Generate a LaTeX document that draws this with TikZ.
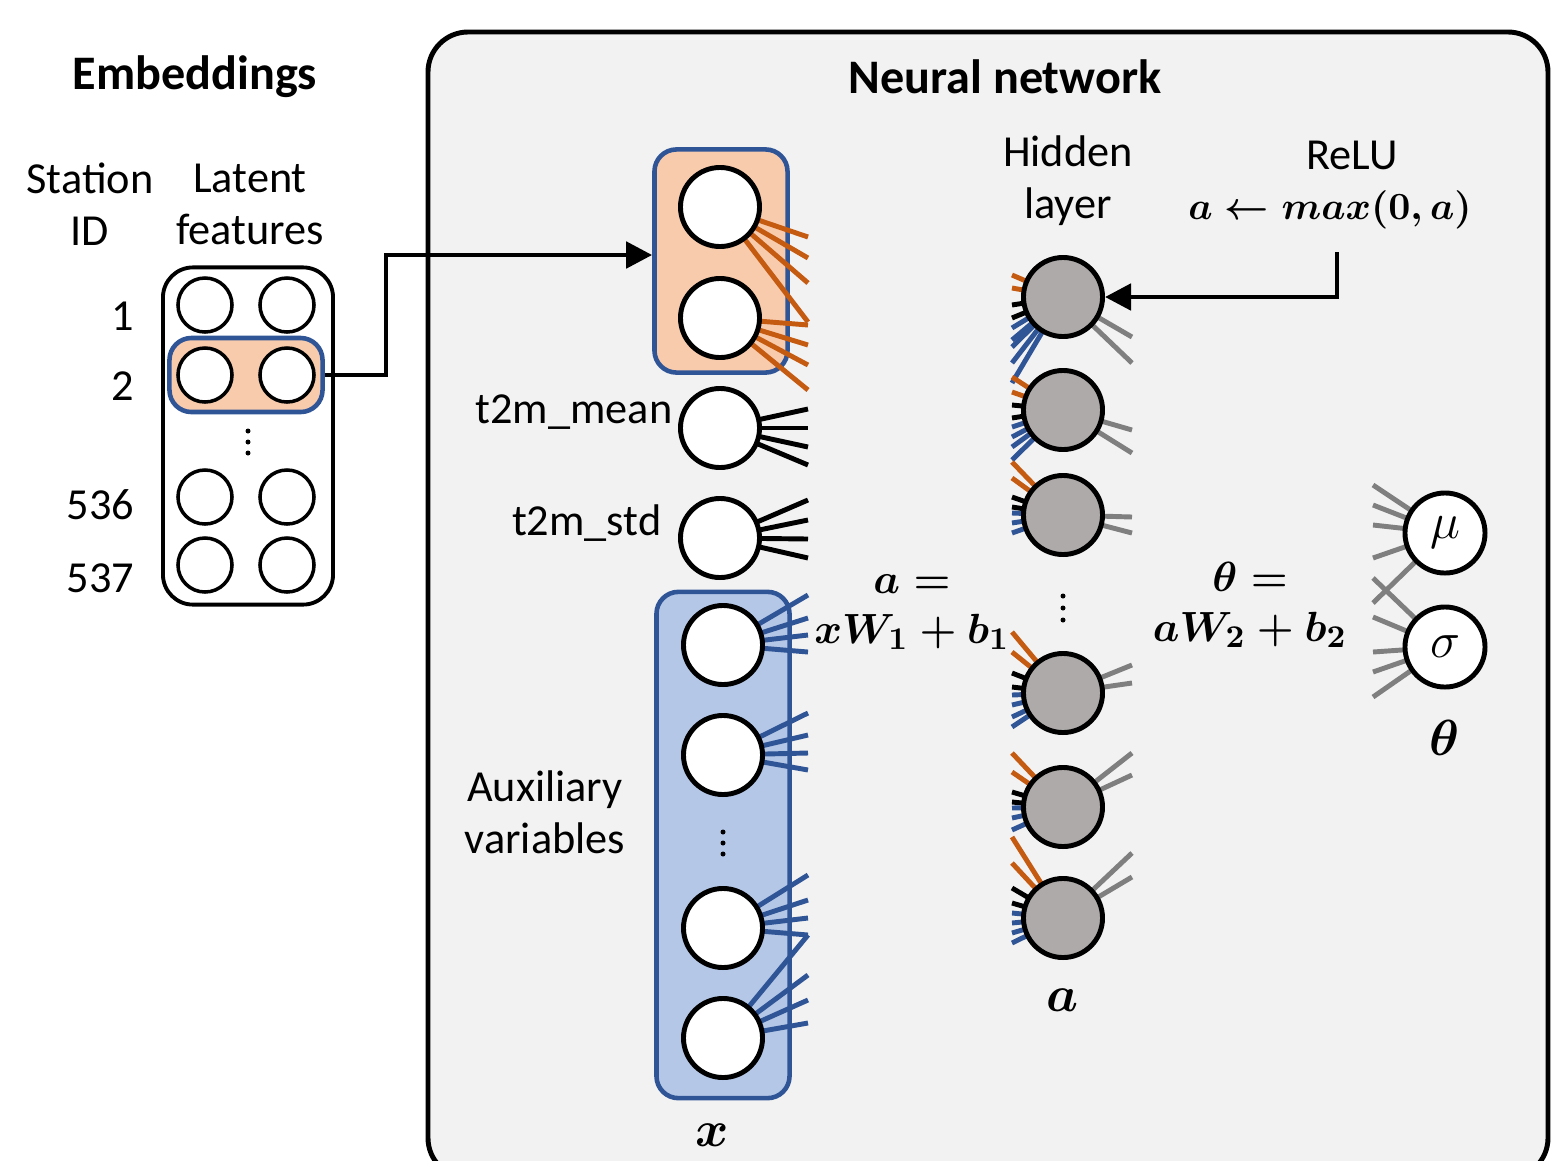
\documentclass[tikz,border=0pt]{standalone}
\usepackage{amsmath}
\usepackage{fontspec}
\setmainfont{Carlito}
\usetikzlibrary{arrows.meta}

\definecolor{panelgray}{HTML}{F2F2F2}
\definecolor{orfill}{HTML}{F8CBAD}
\definecolor{orline}{HTML}{C55A11}
\definecolor{bluline}{HTML}{2F5597}
\definecolor{blufill}{HTML}{B4C7E7}
\definecolor{hidgray}{HTML}{AEAAAA}
\definecolor{stubgray}{HTML}{7F7F7F}

\pgfdeclarelayer{bg}
\pgfdeclarelayer{stubs}
\pgfsetlayers{bg,stubs,main}

\begin{document}
\begin{tikzpicture}[x=0.01cm, y=-0.01cm,
    emb/.style={circle, draw, line width=1pt, fill=white, minimum size=0.54cm, inner sep=0pt},
    inp/.style={circle, draw, line width=1.4pt, fill=white, minimum size=0.79cm, inner sep=0pt},
    hid/.style={circle, draw, line width=1.4pt, fill=hidgray, minimum size=0.79cm, inner sep=0pt},
    outp/.style={circle, draw, line width=1.4pt, fill=white, minimum size=0.8cm, inner sep=0pt, font=\fontsize{15}{18}\selectfont},
    frame/.style={draw, line width=1.1pt, fill=white, rounded corners=0.3cm},
    obox/.style={draw=bluline, line width=1.3pt, fill=orfill, rounded corners=0.22cm},
    bbox/.style={draw=bluline, line width=1.3pt, fill=blufill, rounded corners=0.22cm},
    lbl/.style={font=\fontsize{12.6}{14.8}\selectfont, inner sep=0pt},
    head/.style={font=\fontsize{13.7}{17}\selectfont\bfseries, inner sep=0pt},
    eq/.style={font=\fontsize{12.5}{14.2}\selectfont\boldmath, inner sep=0pt},
    sym/.style={font=\fontsize{14.5}{17}\selectfont\boldmath, inner sep=0pt},
    arr/.style={line width=1.4pt, -{Triangle[length=0.26cm, width=0.26cm]}},
    orstub/.style={orline, line width=1.4pt},
    bkstub/.style={black, line width=1.4pt},
    blstub/.style={bluline, line width=1.4pt},
    grstub/.style={stubgray, line width=1.4pt}]
    \useasboundingbox (0,0) rectangle (1551,1160);

    % panel and boxes
    \begin{pgfonlayer}{bg}
    \draw[fill=panelgray, line width=1.4pt, rounded corners=0.4cm] (428,32) rectangle (1548,1178);
    \node[frame, minimum width=1.70cm, minimum height=3.37cm] (embbox) at (248,436) {};
    \node[obox, minimum width=1.53cm, minimum height=0.74cm] (hl) at (246,375) {};
    \node[obox, minimum width=1.33cm, minimum height=2.23cm] (ob) at (721,261) {};
    \node[bbox, minimum width=1.33cm, minimum height=5.06cm] (aux) at (723,845) {};
    \node[lbl, anchor=east] (meanlbl) at (673,412) {t2m\_mean};
    \end{pgfonlayer}

    % titles and labels
    \node[head] (embt) at (195,77) {Embeddings};
    \node[head] (nnt) at (1005,77) {Neural network};
    \node[lbl, align=center] (sid) at (90,204) {Station\\ID};
    \node[lbl, align=center] (lat) at (250,204) {Latent\\features};
    \node[lbl, anchor=east] (r1) at (135,316) {1};
    \node[lbl, anchor=east] (r2) at (135,386) {2};
    \node[lbl, anchor=east] (r536) at (135,505) {536};
    \node[lbl, anchor=east] (r537) at (135,578) {537};
    \node[lbl, anchor=east] (stdlbl) at (662,523) {t2m\_std};
    \node[lbl, align=center] (auxlbl) at (545,812) {Auxiliary\\variables};
    \node[lbl, align=center] (hidlbl) at (1068,181) {Hidden\\layer};
    \node[lbl] (relu) at (1352,155) {ReLU};
    \node[eq, font=\fontsize{11.2}{14}\selectfont\boldmath] (relueq) at (1330,210) {$a \leftarrow max(0,a)$};
    \node[eq, align=center] (eq1) at (912,612) {$a =$\\$xW_1 + b_1$};
    \node[eq, align=center] (eq2) at (1250,605) {$\theta =$\\$aW_2 + b_2$};
    \node[sym] (xlbl) at (712,1135) {$x$};
    \node[sym] (albl) at (1063,1000) {$a$};
    \node[sym] (thlbl) at (1445,738) {$\theta$};

    % embedding table
    \foreach \n/\y in {1/305, 2/375, 3/497, 4/565} {
        \node[emb] (e\n a) at (205,\y) {};
        \node[emb] (e\n b) at (287,\y) {};
    }
    \foreach \d in {-11,0,11} \fill (248,442+\d) circle (0.025cm);

    % inputs
    \node[inp] (i1) at (720,207) {};
    \node[inp] (i2) at (720,318) {};
    \node[inp] (i3) at (720,428) {};
    \node[inp] (i4) at (720,538) {};
    \node[inp] (a1) at (723,645) {};
    \node[inp] (a2) at (723,755) {};
    \node[inp] (a3) at (723,928) {};
    \node[inp] (a4) at (723,1038) {};
    \foreach \d in {-11,0,11} \fill (723,843+\d) circle (0.025cm);

    % hidden layer
    \foreach \n/\y in {h1/297, h2/410, h3/515, h4/693, h5/807, h6/918}
        \node[hid] (\n) at (1063,\y) {};
    \foreach \d in {-12,0,12} \fill (1063,608+\d) circle (0.025cm);

    % outputs
    \node[outp] (mu) at (1445,533) {$\mu$};
    \node[outp] (sig) at (1445,647) {$\sigma$};

    % stubs
    \begin{pgfonlayer}{stubs}
    \foreach \n/\col/\ys in {i1/orstub/{237,258,283,322}, i2/orstub/{325,345,365,390},
        i3/bkstub/{409,428,447,465}, i4/bkstub/{500,520,539,558},
        a1/blstub/{595,618,635,652}, a2/blstub/{713,735,753,770},
        a3/blstub/{875,900,918,935}, a4/blstub/{935,975,1000,1023}}
        \foreach \y in \ys \draw[\col] (\n.center) -- (808,\y);
    \foreach \n/\os/\ks/\bs/\gs in {h1/{275,288}/{305,318}/{328,340,347,363,383}/{337,363},
        h2/{377,392}/{405,418}/{427,437,447,460}/{430,453},
        h3/{462,478}/{497,507}/{513,523,533}/{517,533},
        h4/{632,652}/{673,687}/{695,705,717,727}/{665,683},
        h5/{753,772}/{792,802}/{808,818,830}/{753,775},
        h6/{837,863}/{888,903}/{913,923,933,943}/{853,877}} {
        \foreach \y in \os \draw[orstub] (\n.center) -- (1012,\y);
        \foreach \y in \ks \draw[bkstub] (\n.center) -- (1012,\y);
        \foreach \y in \bs \draw[blstub] (\n.center) -- (1012,\y);
        \foreach \y in \gs \draw[grstub] (\n.center) -- (1132,\y);
    }
    \foreach \y in {485,505,525,558,603} \draw[grstub] (mu.center) -- (1373,\y);
    \foreach \y in {578,617,652,672,697} \draw[grstub] (sig.center) -- (1373,\y);
    \end{pgfonlayer}

    % arrows
    \coordinate (bend) at (386,255);
    \draw[arr] (hl.east) -| (bend) -- (bend -| ob.west);
    \coordinate (rl) at (1337,252);
    \draw[arr] (rl) |- (h1.east);
\end{tikzpicture}
\end{document}
